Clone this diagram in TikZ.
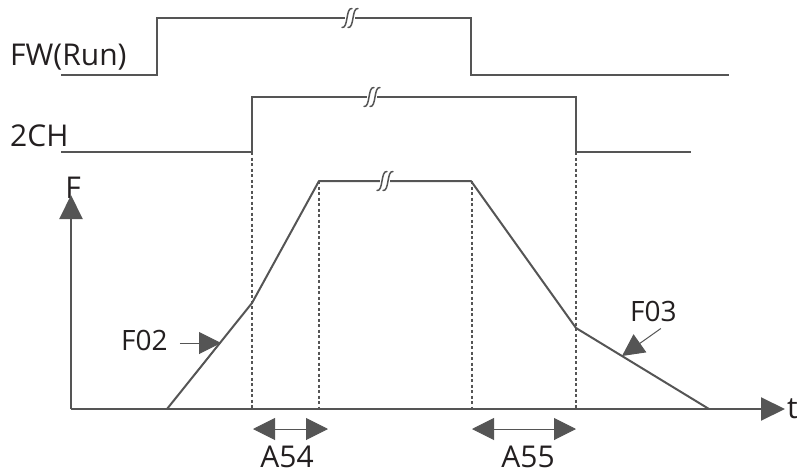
\documentclass[tikz,border=0pt]{standalone}
\usepackage{fontspec}
\setmainfont{Open Sans}
\usetikzlibrary{arrows.meta,calc}
\definecolor{ln}{HTML}{555555}
\definecolor{tx}{HTML}{231F20}
\tikzset{
  sig/.style={draw=ln, line width=2pt},
  guide/.style={draw=ln, line width=1.4pt, dash pattern=on 3pt off 2.5pt},
  axisarr/.style={draw=ln, line width=2pt, -{Triangle[length=24pt,width=23pt]}},
  lblarr/.style={draw=ln, line width=1pt, -{Triangle[length=22pt,width=22pt]}},
  dblarr/.style={draw=ln, line width=1pt, {Triangle[length=22pt,width=22pt]}-{Triangle[length=22pt,width=22pt]}},
  lbl/.style={text=tx, inner sep=0pt, font=\fontsize{30}{32}\selectfont},
  slbl/.style={text=tx, inner sep=0pt, font=\fontsize{28}{30}\selectfont},
  brk/.pic={
    \fill[white] (-5,-3) rectangle (5,3);
    \foreach \d in {-3,3}{
      \draw[ln, line width=1.5pt, line cap=round] (\d-5,9.5) .. controls (\d+1.5,10.5) and (\d-1.5,-10.5) .. (\d+5,-9.5);
    }
  }
}
\begin{document}
\begin{tikzpicture}[x=1pt,y=-1pt]
\useasboundingbox (0,0) rectangle (801,474);
% labels
\node[lbl, anchor=base west] (fw) at (10,65) {FW(Run)};
\node[lbl, anchor=base west] (ch) at (10,146) {2CH};
\node[lbl, anchor=base] (F) at (73,198) {F};
\node[lbl, anchor=base west] (t) at (787,418) {t};
\node[slbl, anchor=base west] (f02) at (121,350) {F02};
\node[slbl, anchor=base west] (f03) at (630,321) {F03};
\node[lbl, anchor=base] (a54) at (287,467) {A54};
\node[lbl, anchor=base] (a55) at (528,467) {A55};
% FW(Run) signal
\draw[sig] (61,75) -- (157,75) -- (157,18) -- (471,18) -- (471,75) -- (729,75);
\pic at (350,18) {brk};
% 2CH signal
\draw[sig] (61,152) -- (252,152) -- (252,97) -- (576,97) -- (576,152) -- (691,152);
\pic at (372,97) {brk};
% guides
\draw[guide] (252,152) -- (252,409);
\draw[guide] (319,181) -- (319,409);
\draw[guide] (472,181) -- (472,409);
\draw[guide] (576,152) -- (576,409);
% axes
\coordinate (o) at (71,409);
\coordinate (ftip) at (71,195);
\coordinate (ttip) at (785,409);
\draw[axisarr] (o) -- (ftip);
\draw[axisarr] (o) -- (ttip);
% frequency curve
\coordinate (p0) at (167,409);
\coordinate (p1) at (252,303);
\coordinate (p2) at (319,181);
\coordinate (p3) at (471,181);
\coordinate (p4) at (576,328);
\coordinate (p5) at (709,409);
\draw[sig, line join=round] (p0) -- (p1) -- (p2) -- (p3) -- (p4) -- (p5);
\pic at (385,181) {brk};
% label arrows
\coordinate (c02) at (221,343);
\coordinate (c03) at (622,356);
\draw[lblarr] ($(f02.east |- c02)+(12,0)$) -- (c02);
\draw[lblarr] ($(f03.south east)+(-16,7)$) -- (c03);
% duration arrows
\coordinate (a54l) at (253,429);
\coordinate (a54r) at (328,429);
\coordinate (a55l) at (472,429);
\coordinate (a55r) at (576,429);
\draw[dblarr] (a54l) -- (a54r);
\draw[dblarr] (a55l) -- (a55r);
\end{tikzpicture}
\end{document}
